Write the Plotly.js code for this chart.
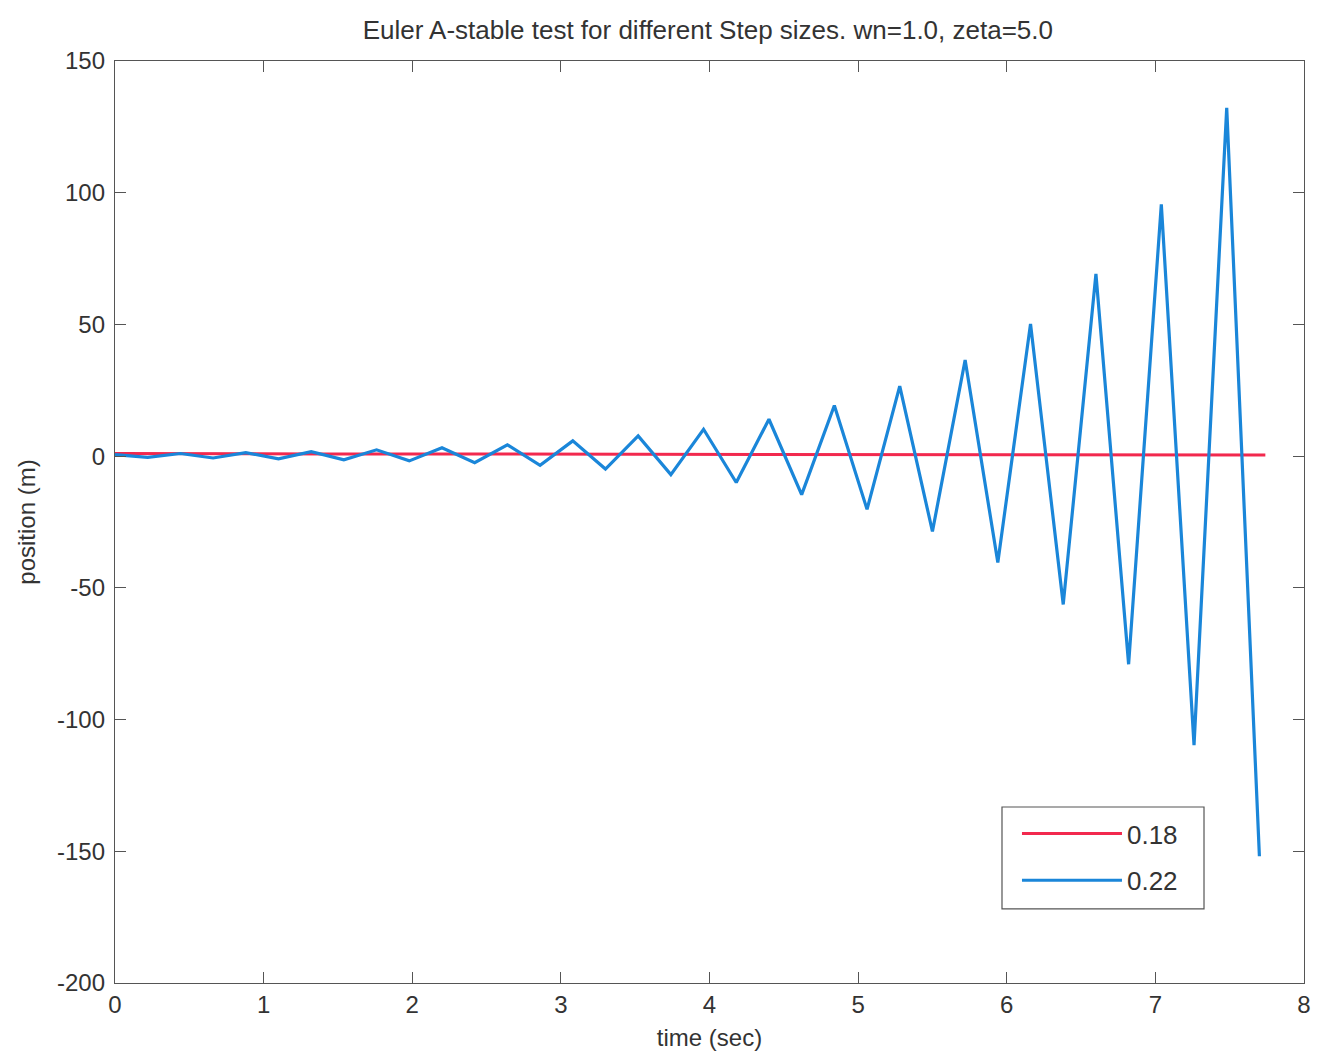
<!DOCTYPE html>
<html>
<head>
<meta charset="utf-8">
<script src="https://cdn.plot.ly/plotly-3.0.1.min.js"></script>
<style>html,body{margin:0;padding:0;background:#fff;}#chart{width:1323px;height:1057px;}</style>
</head>
<body>
<div id="chart"></div>
<script>
// Step size 0.18 series
const tRed = [0,0.18,0.36,0.54,0.72,0.9,1.08,1.26,1.44,1.62,1.8,1.98,2.16,2.34,2.52,2.7,2.88,3.06,3.24,3.42,3.6,3.78,3.96,4.14,4.32,4.5,4.68,4.86,5.04,5.22,5.4,5.58,5.76,5.94,6.12,6.3,6.48,6.66,6.84,7.02,7.2,7.38,7.56,7.74];
const posRed = [1.0,0.95,0.95,0.93,0.92,0.9,0.88,0.87,0.85,0.84,0.82,0.81,0.79,0.78,0.77,0.75,0.74,0.73,0.71,0.7,0.69,0.68,0.67,0.66,0.64,0.63,0.62,0.61,0.6,0.59,0.58,0.57,0.56,0.55,0.54,0.53,0.52,0.51,0.5,0.5,0.49,0.48,0.47,0.46];
// Step size 0.22 series
const tBlue = [0,0.22,0.44,0.66,0.88,1.1,1.32,1.54,1.76,1.98,2.2,2.42,2.64,2.86,3.08,3.3,3.52,3.74,3.96,4.18,4.4,4.62,4.84,5.06,5.28,5.5,5.72,5.94,6.16,6.38,6.6,6.82,7.04,7.26,7.48,7.7];
const posBlue = [0.6,-0.5,1.0,-0.7,1.3,-1.0,1.7,-1.4,2.4,-1.8,3.2,-2.5,4.3,-3.5,5.8,-4.9,7.7,-7.0,10.2,-10.0,14.0,-14.6,19.2,-20.2,26.6,-28.6,36.5,-40.4,50.2,-56.3,69.2,-79.0,95.6,-109.7,132.2,-151.9];
const legendNames = ["0.18","0.22"];
// Tick labels
const xTickVals = [0,1,2,3,4,5,6,7,8];
const xTickText = ["0","1","2","3","4","5","6","7","8"];
const yTickVals = [-200,-150,-100,-50,0,50,100,150];
const yTickText = ["-200","-150","-100","-50","0","50","100","150"];

const FONT = 'Liberation Sans, Arial, sans-serif';
const axisCommon = {
  showgrid:false, zeroline:false, showline:true, mirror:'ticks',
  linecolor:'#555', linewidth:1.2, ticks:'inside', ticklen:11, tickwidth:1.2, tickcolor:'#555',
  tickmode:'array',
  tickfont:{family:FONT, size:24, color:'#333'}
};

const data = [
  {x:tRed, y:posRed, type:'scatter', mode:'lines', name:legendNames[0], legendgroup:'a', line:{color:'#f2294e', width:3}},
  {x:tBlue, y:posBlue, type:'scatter', mode:'lines', name:legendNames[1], legendgroup:'b', line:{color:'#1a86d9', width:3.2}}
];

const layout = {
  width:1323, height:1057,
  paper_bgcolor:'#fff', plot_bgcolor:'#fff',
  margin:{l:115, r:19, t:61, b:74},
  title:{text:'Euler A-stable test for different Step sizes. wn=1.0, zeta=5.0', x:0.535, xanchor:'center', y:0.972, yanchor:'middle',
         font:{family:FONT, size:26, color:'#333'}},
  xaxis:Object.assign({}, axisCommon, {range:[0,8], tickvals:xTickVals, ticktext:xTickText,
         title:{text:'time (sec)', standoff:12, font:{family:FONT, size:24, color:'#333'}}}),
  yaxis:Object.assign({}, axisCommon, {range:[-200,150], tickvals:yTickVals, ticktext:yTickText, ticklabelstandoff:4,
         title:{text:'position (m)', standoff:14, font:{family:FONT, size:24, color:'#333'}}}),
  showlegend:true,
  legend:{x:0.7586, y:0.1876, xanchor:'left', yanchor:'top', bgcolor:'rgba(0,0,0,0)', borderwidth:0,
          itemwidth:100, tracegroupgap:10,
          font:{family:FONT, size:26, color:'#333'}},
  shapes:[
    {type:'rect', xref:'paper', yref:'paper', x0:0.746, x1:0.9159, y0:0.0803, y1:0.1909,
     line:{color:'#555', width:1.2}, fillcolor:'#fff', layer:'below'}
  ]
};

Plotly.newPlot('chart', data, layout, {displayModeBar:false, staticPlot:true});
</script>
</body>
</html>
